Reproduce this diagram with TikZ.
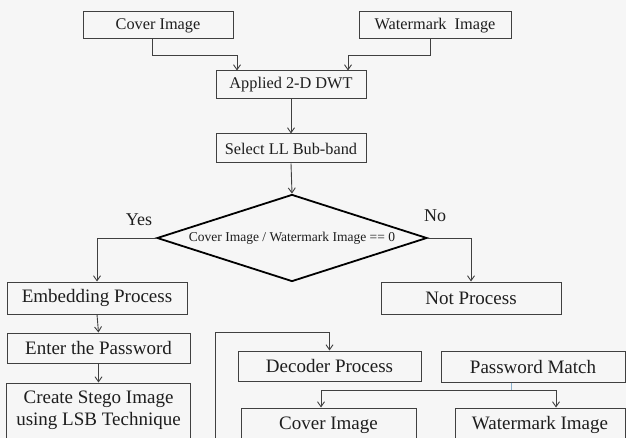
\documentclass[tikz,border=0pt]{standalone}
\usepackage{fontspec}
\setmainfont{Liberation Serif}
\usetikzlibrary{shapes.geometric,arrows.meta,calc}
\definecolor{bg}{HTML}{F6F6F6}
\definecolor{ln}{HTML}{404040}
\definecolor{txt}{HTML}{1E1E1E}
\definecolor{tk}{HTML}{8AAFCB}
\begin{document}
\begin{tikzpicture}[x=1pt,y=-1pt,
  box/.style={draw=ln, line width=1pt, text=txt, inner sep=0pt, font=\fontsize{19}{22}\selectfont},
  topbox/.style={box, font=\fontsize{16.3}{19}\selectfont},
  lbl/.style={text=txt, inner sep=0pt, font=\fontsize{18}{21}\selectfont},
  arr/.style={draw=ln, line width=0.9pt, -{Straight Barb[length=5pt,width=7pt]}},
  conn/.style={draw=ln, line width=0.9pt}]
\clip (0,0) rectangle (626,438);
\fill[bg] (0,0) rectangle (626,438);

% top part
\node[topbox, minimum width=150pt, minimum height=27pt] (cov) at (158,25.5) {Cover Image};
\node[topbox, minimum width=152pt, minimum height=27pt] (wat) at (435,25.5) {Watermark~ Image};
\node[topbox, minimum width=150pt, minimum height=28pt] (dwt) at (291,85) {Applied 2-D DWT};
\node[topbox, minimum width=150pt, minimum height=29pt] (sel) at (291,148.5) {Select LL Bub-band};
\node[diamond, draw=black, line width=1.8pt, aspect=3.1, inner sep=0pt,
      minimum width=270pt, minimum height=87pt, text=txt,
      font=\fontsize{13.5}{16}\selectfont] (dia) at (292,238) {Cover Image / Watermark Image == 0};
\node[lbl] (yes) at (139,220) {Yes};
\node[lbl] (no) at (435,216) {No};

\draw[arr] ([xshift=-6pt]cov.south) -- ++(0,16) -| ([xshift=-54pt]dwt.north);
\draw[arr] ([xshift=-5pt]wat.south) -- ++(0,16) -| ([xshift=57pt]dwt.north);
\draw[arr] (dwt.south) -- (sel.north);
\draw[arr] (sel.south) -- (dia.north);

% branches
\node[box, minimum width=180pt, minimum height=32pt] (emb) at (97,298) {Embedding Process};
\node[box, minimum width=180pt, minimum height=32pt] (np) at (471,298) {Not Process};
\draw[arr] (dia.west) -| (emb.north);
\draw[arr] (dia.east) -| (np.north);

\node[box, minimum width=183pt, minimum height=30pt] (pw) at (98.5,348) {Enter the Password};
\node[box, minimum width=184pt, minimum height=55pt, align=center] (cs) at (98.5,410.5) {Create Stego Image\\using LSB Technique};
\draw[arr] (emb.south) -- (pw.north);
\draw[arr] (pw.south) -- (cs.north);
\draw[conn] ([xshift=-10pt]cs.south) -- ++(0,4);

% decoder part
\coordinate (fr) at (215,445);
\node[box, minimum width=183pt, minimum height=30pt] (dec) at (329.5,366) {Decoder Process};
\node[box, minimum width=184pt, minimum height=31pt] (pm) at (533,366.5) {Password Match};
\draw[arr] (fr) |- ([yshift=18pt]dec.north) -- (dec.north);

\node[box, minimum width=175pt, minimum height=34pt] (ci) at (328.5,425) {Cover Image};
\node[box, minimum width=170pt, minimum height=34pt] (wi) at (540,425) {Watermark Image};
\draw[draw=tk, line width=0.9pt] ([xshift=-22pt]pm.south) -- ++(0,8) coordinate (sp);
\draw[arr] (sp) -| ([xshift=-7.5pt]ci.north);
\draw[arr] (sp) -| ([xshift=16pt]wi.north);
\end{tikzpicture}
\end{document}
